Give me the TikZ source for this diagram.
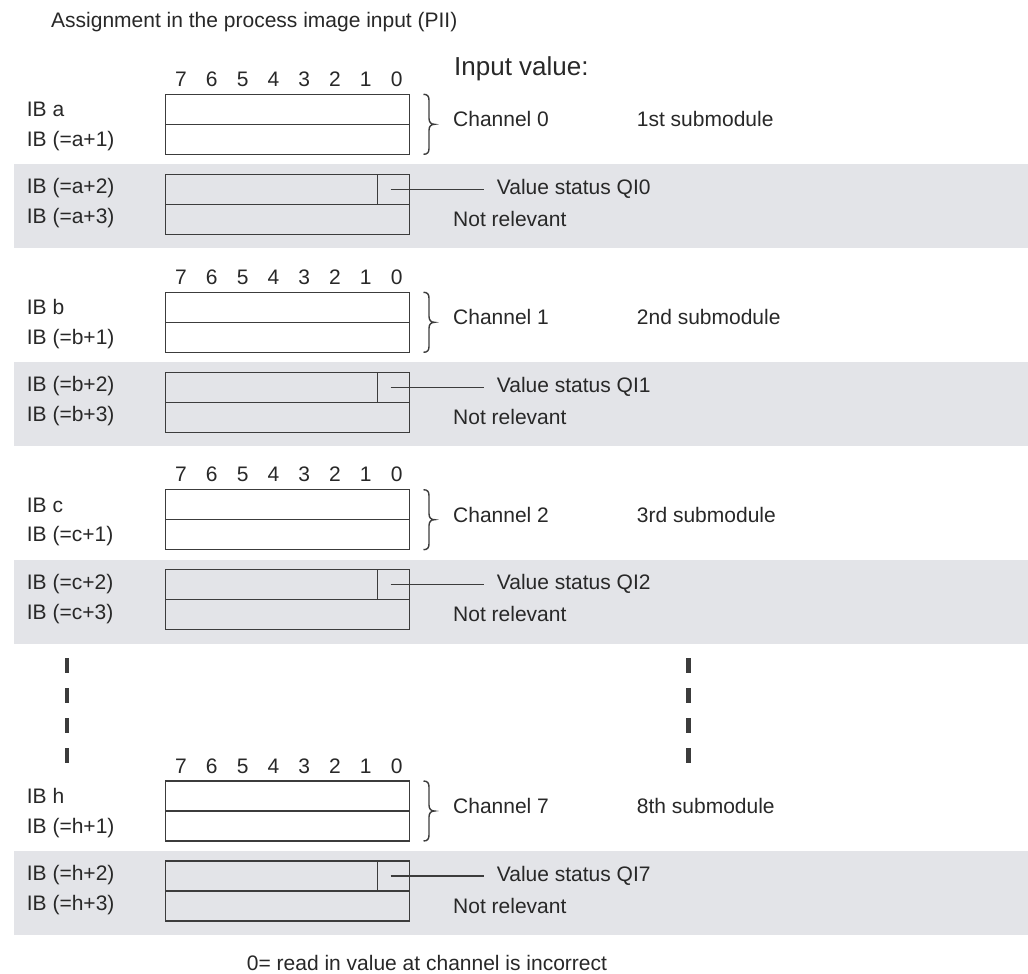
\documentclass[tikz,border=0pt]{standalone}
\usepackage{fontspec}
\setmainfont{Liberation Sans}
\definecolor{band}{RGB}{227,228,232}
\definecolor{ink}{RGB}{40,40,40}
\definecolor{wire}{RGB}{60,60,60}
\begin{document}
\begin{tikzpicture}[x=1pt,y=-1pt,
  txt/.style={anchor=base west,inner sep=0pt,text=ink,font=\fontsize{21}{25}\selectfont},
  bitlbl/.style={anchor=base,inner sep=0pt,text=ink,font=\fontsize{21}{25}\selectfont},
  byte/.style={draw=wire,line width=1.4pt,minimum width=243.6pt,minimum height=30pt,inner sep=0pt,outer sep=0pt,anchor=north west},
  wline/.style={draw=wire,line width=1.4pt},
  dashbar/.style={fill=wire}]
\useasboundingbox (0,0) rectangle (1028,974);
\fill[white] (0,0) rectangle (1028,974);
\node[txt] (title) at (51,27.5) {Assignment in the process image input (PII)};
\node[txt,font=\fontsize{26}{30}\selectfont] (inval) at (454,75) {Input value:};
\foreach \T/\L/\C/\O/\N in {94.3/a/0/1st/s1, 292.3/b/1/2nd/s2, 489.7/c/2/3rd/s3, 781/h/7/8th/s8}{
  \fill[band] (14,\T+70) rectangle (1028,\T+154);
  \foreach \b in {7,6,...,0}{
    \node[bitlbl] (bit\N\b) at ({181+30.8*(7-\b)},\T-8) {\b};
  }
  \node[byte,fill=white] (hi\N) at (165.7,\T) {};
  \node[byte,fill=white] (lo\N) at (165.7,\T+30) {};
  \node[byte] (st\N) at (165.7,\T+80) {};
  \node[byte] (nr\N) at (165.7,\T+110) {};
  \draw[wline] ([xshift=-32pt]st\N.north east) -- ([xshift=-32pt]st\N.south east);
  \coordinate (qs\N) at (390.7,\T+95);
  \coordinate (qe\N) at (483.5,\T+95);
  \draw[wline] (qs\N) -- (qe\N);
  \node[txt] (vs\N) at (496.7,\T+100) {Value status QI\C};
  \node[txt] (la\N) at (26.7,\T+22.5) {IB \L};
  \node[txt] (lb\N) at (26.7,\T+52) {IB (=\L+1)};
  \node[txt] (lc\N) at (26.7,\T+99.5) {IB (=\L+2)};
  \node[txt] (ld\N) at (26.7,\T+129.5) {IB (=\L+3)};
  \draw[wline] (423.5,\T) .. controls (427.5,\T) and (429,\T+2) .. (429,\T+6)
     -- (429,\T+24) .. controls (429,\T+28) and (431,\T+30) .. (434.5,\T+30)
     .. controls (431,\T+30) and (429,\T+32) .. (429,\T+36)
     -- (429,\T+54) .. controls (429,\T+58) and (427.5,\T+60) .. (423.5,\T+60);
  \node[txt] (ch\N) at (453,\T+32.5) {Channel \C};
  \node[txt] (sm\N) at (636.7,\T+32.5) {\O\ submodule};
  \node[txt] (nt\N) at (453,\T+132) {Not relevant};
}
\foreach \y in {658,688,718,748}{
  \fill[dashbar] (64.5,\y) rectangle (69,\y+14.5);
  \fill[dashbar] (686.3,\y) rectangle (690.8,\y+14.5);
}
\node[txt] (foot) at (246.7,970.8) {0= read in value at channel is incorrect};
\end{tikzpicture}
\end{document}
